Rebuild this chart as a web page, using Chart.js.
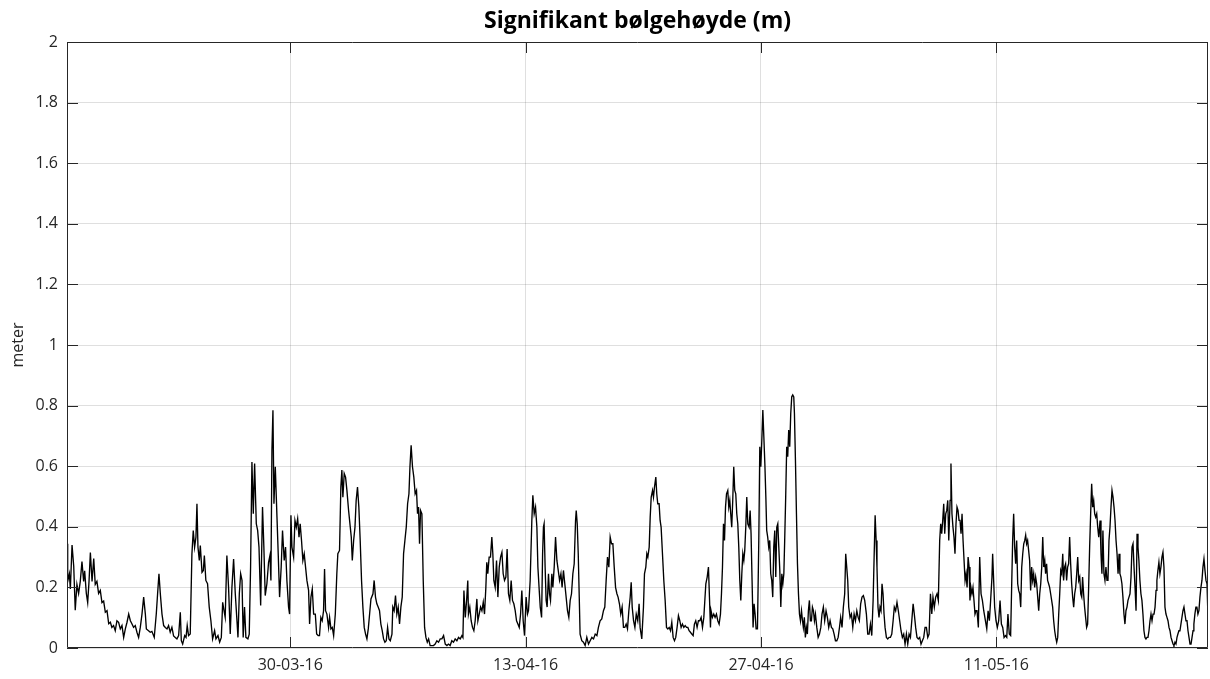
<!DOCTYPE html>
<html><head><meta charset="utf-8">
<script src="https://cdn.jsdelivr.net/npm/chart.js@4.4.1/dist/chart.umd.min.js"></script>
<style>html,body{margin:0;padding:0;background:#fff;}canvas{display:block;}</style>
</head><body>
<canvas id="c" width="1210" height="679"></canvas>
<script>
const chartTitle = 'Signifikant bølgehøyde (m)';
const yAxisTitle = 'meter';
// x values: days relative to 30-03-16 00:00
const tickDays = [0, 14, 28, 42];
const tickLabels = ['30-03-16', '13-04-16', '27-04-16', '11-05-16'];
const dayRange = [-13.28, 54.59];
const yRange = [0, 2];
const yStep = 0.2;
// [day offset, significant wave height (m)]
const hsSamples = [
[-13.28,0.344],[-13.24,0.22],[-13.14,0.245],[-13.08,0.195],[-12.98,0.34],[-12.88,0.27],[-12.79,0.125],[-12.69,0.21],[-12.59,0.18],[-12.49,0.22],[-12.39,0.285],[-12.29,0.22],[-12.23,0.255],[-12.13,0.18],[-12.05,0.15],[-11.97,0.22],[-11.89,0.315],[-11.79,0.22],[-11.69,0.295],[-11.60,0.21],[-11.50,0.22],[-11.40,0.18],[-11.30,0.19],[-11.20,0.15],[-11.10,0.155],[-11.00,0.118],[-10.90,0.123],[-10.80,0.08],[-10.70,0.085],[-10.61,0.068],[-10.51,0.074],[-10.41,0.057],[-10.31,0.09],[-10.21,0.085],[-10.11,0.063],[-10.01,0.074],[-9.91,0.035],[-9.81,0.063],[-9.71,0.085],[-9.61,0.112],[-9.51,0.09],[-9.42,0.08],[-9.32,0.068],[-9.22,0.074],[-9.12,0.052],[-9.02,0.035],[-8.92,0.068],[-8.82,0.112],[-8.72,0.168],[-8.62,0.112],[-8.56,0.063],[-8.43,0.057],[-8.33,0.052],[-8.23,0.055],[-8.09,0.035],[-7.97,0.112],[-7.89,0.18],[-7.81,0.245],[-7.73,0.18],[-7.63,0.112],[-7.53,0.074],[-7.43,0.068],[-7.33,0.063],[-7.24,0.074],[-7.14,0.052],[-7.04,0.068],[-6.94,0.04],
[-6.84,0.035],[-6.74,0.03],[-6.64,0.041],[-6.54,0.118],[-6.48,0.024],[-6.40,0.013],[-6.28,0.041],[-6.20,0.035],[-6.13,0.074],[-6.05,0.041],[-5.95,0.046],[-5.85,0.31],[-5.77,0.388],[-5.69,0.333],[-5.61,0.366],[-5.55,0.476],[-5.49,0.333],[-5.41,0.289],[-5.35,0.338],[-5.25,0.25],[-5.17,0.256],[-5.11,0.305],[-5.02,0.223],[-4.92,0.212],[-4.82,0.135],[-4.72,0.09],[-4.62,0.03],[-4.50,0.057],[-4.42,0.03],[-4.30,0.041],[-4.20,0.019],[-4.10,0.035],[-4.02,0.151],[-3.94,0.123],[-3.87,0.101],[-3.77,0.305],[-3.67,0.2],[-3.57,0.046],[-3.47,0.2],[-3.37,0.294],[-3.27,0.179],[-3.17,0.09],[-3.11,0.035],[-3.03,0.179],[-2.95,0.245],[-2.87,0.223],[-2.80,0.035],[-2.72,0.135],[-2.64,0.035],[-2.52,0.03],[-2.44,0.046],[-2.36,0.267],[-2.28,0.614],[-2.20,0.443],[-2.12,0.609],[-2.02,0.41],[-1.94,0.388],[-1.86,0.333],[-1.76,0.14],[-1.65,0.465],[-1.57,0.333],[-1.49,0.173],[-1.39,0.212],[-1.29,0.283],[-1.21,0.305],[-1.15,0.223],[-1.09,0.653],[-1.03,0.785],[-0.97,0.476],[-0.89,0.598],[-0.79,0.432],[-0.71,0.3],[-0.635,0.168],[-0.54,0.267],[-0.46,0.388],[-0.36,0.289],[-0.28,0.333],[-0.20,0.223],[-0.10,0.135],[-0.04,0.112],
[0.04,0.438],[0.10,0.333],[0.20,0.3],[0.28,0.421],[0.36,0.399],[0.44,0.427],[0.52,0.366],[0.59,0.41],[0.67,0.355],[0.75,0.289],[0.83,0.311],[0.91,0.267],[0.99,0.223],[1.09,0.19],[1.15,0.079],[1.23,0.168],[1.31,0.195],[1.39,0.112],[1.49,0.112],[1.57,0.046],[1.66,0.041],[1.74,0.041],[1.82,0.101],[1.90,0.09],[1.98,0.123],[2.04,0.261],[2.10,0.123],[2.18,0.112],[2.28,0.068],[2.34,0.101],[2.42,0.063],[2.50,0.068],[2.58,0.041],[2.68,0.112],[2.77,0.245],[2.83,0.311],[2.93,0.322],[3.01,0.531],[3.07,0.587],[3.13,0.498],[3.21,0.576],[3.29,0.564],[3.37,0.52],[3.47,0.454],[3.57,0.399],[3.63,0.366],[3.69,0.289],[3.77,0.355],[3.85,0.399],[3.92,0.487],[4.00,0.531],[4.08,0.465],[4.16,0.355],[4.24,0.223],[4.32,0.135],[4.40,0.068],[4.48,0.046],[4.56,0.03],[4.64,0.063],[4.72,0.112],[4.80,0.162],[4.92,0.179],[4.99,0.223],[5.07,0.168],[5.15,0.146],[5.23,0.135],[5.31,0.123],[5.39,0.079],[5.47,0.057],[5.55,0.03],[5.63,0.019],[5.71,0.024],[5.79,0.068],[5.87,0.03],[5.95,0.024],[6.05,0.046],[6.10,0.135],[6.18,0.123],[6.26,0.173],[6.34,0.112],[6.42,0.135],[6.50,0.079],[6.58,0.135],[6.66,0.168],[6.74,0.311],[6.82,0.355],[6.90,0.399],[6.98,0.476],[7.06,0.509],
[7.12,0.598],[7.19,0.669],[7.27,0.598],[7.35,0.564],[7.43,0.509],[7.51,0.52],[7.57,0.443],[7.63,0.465],[7.69,0.344],[7.75,0.454],[7.83,0.443],[7.91,0.223],[7.99,0.068],[8.07,0.035],[8.15,0.019],[8.23,0.03],[8.32,0.008],[8.42,0.008],[8.52,0.008],[8.62,0.013],[8.72,0.024],[8.82,0.019],[8.92,0.03],[9.02,0.03],[9.12,0.041],[9.22,0.013],[9.32,0.008],[9.41,0.013],[9.51,0.008],[9.61,0.024],[9.71,0.019],[9.81,0.03],[9.91,0.024],[10.01,0.035],[10.11,0.03],[10.21,0.041],[10.27,0.035],[10.33,0.19],[10.41,0.101],[10.49,0.157],[10.56,0.223],[10.60,0.112],[10.68,0.135],[10.76,0.09],[10.84,0.068],[10.92,0.057],[11.00,0.09],[11.10,0.162],[11.16,0.09],[11.24,0.112],[11.32,0.135],[11.40,0.123],[11.48,0.151],[11.555,0.112],[11.635,0.2],[11.69,0.283],[11.75,0.245],[11.83,0.3],[11.91,0.3],[11.99,0.366],[12.05,0.311],[12.11,0.223],[12.19,0.2],[12.27,0.289],[12.35,0.168],[12.43,0.267],[12.51,0.3],[12.59,0.316],[12.665,0.245],[12.745,0.223],[12.825,0.234],[12.90,0.327],[12.98,0.179],[13.06,0.157],[13.14,0.223],[13.22,0.157],[13.30,0.146],[13.38,0.123],[13.46,0.09],[13.54,0.079],[13.62,0.068],[13.70,0.112],[13.775,0.19],[13.855,0.09],[13.935,0.041],
[14.03,0.168],[14.11,0.112],[14.17,0.123],[14.27,0.223],[14.37,0.421],[14.43,0.504],[14.51,0.443],[14.59,0.465],[14.67,0.399],[14.73,0.267],[14.81,0.19],[14.87,0.135],[14.95,0.101],[15.01,0.311],[15.06,0.399],[15.10,0.41],[15.16,0.267],[15.22,0.157],[15.28,0.135],[15.36,0.245],[15.42,0.179],[15.48,0.157],[15.56,0.245],[15.62,0.2],[15.70,0.267],[15.78,0.366],[15.86,0.289],[15.94,0.256],[16.02,0.223],[16.10,0.245],[16.17,0.2],[16.25,0.256],[16.33,0.212],[16.41,0.168],[16.49,0.123],[16.57,0.101],[16.65,0.157],[16.73,0.179],[16.81,0.245],[16.89,0.278],[16.97,0.421],[17.01,0.454],[17.07,0.41],[17.13,0.311],[17.19,0.168],[17.24,0.046],[17.34,0.024],[17.44,0.019],[17.54,0.008],[17.64,0.035],[17.74,0.013],[17.84,0.024],[17.94,0.035],[18.04,0.03],[18.14,0.046],[18.24,0.041],[18.33,0.068],[18.43,0.09],[18.53,0.096],[18.63,0.123],[18.71,0.135],[18.79,0.223],[18.87,0.3],[18.95,0.267],[19.03,0.366],[19.11,0.344],[19.19,0.344],[19.27,0.267],[19.35,0.2],[19.43,0.179],[19.50,0.168],[19.58,0.146],[19.66,0.112],[19.74,0.135],[19.82,0.068],[19.90,0.068],[19.98,0.079],[20.06,0.063],[20.14,0.123],[20.22,0.168],[20.28,0.217],[20.34,0.135],[20.42,0.09],[20.50,0.068],[20.58,0.112],
[20.67,0.09],[20.75,0.146],[20.81,0.068],[20.91,0.03],[21.01,0.135],[21.07,0.245],[21.15,0.267],[21.21,0.311],[21.27,0.3],[21.35,0.333],[21.41,0.432],[21.47,0.498],[21.55,0.52],[21.605,0.498],[21.665,0.531],[21.745,0.564],[21.80,0.509],[21.86,0.476],[21.94,0.476],[22.00,0.421],[22.06,0.399],[22.14,0.311],[22.22,0.223],[22.30,0.157],[22.38,0.068],[22.46,0.063],[22.54,0.068],[22.62,0.057],[22.695,0.085],[22.775,0.035],[22.855,0.024],[22.93,0.035],[23.01,0.068],[23.09,0.107],[23.17,0.09],[23.25,0.068],[23.33,0.079],[23.41,0.068],[23.49,0.074],[23.57,0.068],[23.65,0.068],[23.725,0.057],[23.805,0.052],[23.885,0.046],[23.965,0.041],[24.04,0.079],[24.12,0.09],[24.20,0.068],[24.28,0.09],[24.36,0.09],[24.44,0.101],[24.52,0.068],[24.60,0.101],[24.66,0.157],[24.72,0.212],[24.80,0.234],[24.875,0.267],[24.935,0.168],[24.995,0.068],[25.03,0.123],[25.11,0.101],[25.19,0.112],[25.27,0.101],[25.35,0.112],[25.43,0.09],[25.51,0.079],[25.59,0.112],[25.65,0.179],[25.71,0.267],[25.77,0.41],[25.83,0.355],[25.89,0.465],[25.95,0.509],[26.025,0.52],[26.085,0.465],[26.145,0.487],[26.20,0.443],[26.26,0.399],[26.32,0.487],[26.38,0.598],[26.44,0.52],[26.50,0.509],[26.56,0.443],[26.62,0.41],[26.68,0.333],[26.74,0.223],[26.80,0.157],[26.86,0.245],[26.92,0.311],[26.98,0.289],[27.035,0.322],[27.095,0.399],[27.155,0.498],[27.215,0.41],[27.295,0.399],[27.355,0.454],
[27.41,0.377],[27.47,0.223],[27.53,0.068],[27.59,0.146],[27.65,0.112],[27.71,0.063],[27.79,0.063],[27.87,0.355],[27.93,0.664],[27.99,0.598],[28.05,0.686],[28.11,0.785],[28.17,0.697],[28.23,0.609],[28.29,0.498],[28.34,0.388],[28.40,0.366],[28.46,0.333],[28.52,0.355],[28.58,0.245],[28.64,0.223],[28.70,0.168],[28.76,0.333],[28.82,0.388],[28.88,0.234],[28.94,0.399],[29.00,0.41],[29.06,0.333],[29.12,0.256],[29.18,0.135],[29.24,0.245],[29.30,0.212],[29.36,0.245],[29.41,0.355],[29.47,0.498],[29.53,0.664],[29.59,0.631],[29.65,0.719],[29.71,0.664],[29.77,0.774],[29.83,0.829],[29.89,0.835],[29.95,0.829],[29.99,0.774],[30.05,0.62],[30.11,0.443],[30.17,0.278],[30.23,0.179],[30.29,0.112],[30.35,0.09],[30.41,0.123],[30.47,0.09],[30.52,0.068],[30.58,0.101],[30.64,0.035],[30.70,0.068],[30.76,0.046],[30.82,0.123],[30.88,0.157],[30.94,0.09],[31.00,0.09],[31.06,0.135],[31.12,0.123],[31.18,0.09],[31.24,0.112],[31.32,0.068],[31.40,0.035],[31.48,0.046],[31.56,0.068],[31.63,0.112],[31.71,0.135],[31.79,0.09],[31.87,0.123],[31.95,0.101],[32.03,0.068],[32.11,0.09],[32.19,0.068],[32.27,0.063],[32.35,0.046],[32.43,0.024],[32.51,0.024],[32.59,0.035],[32.67,0.068],[32.74,0.101],[32.82,0.068],[32.90,0.135],[32.98,0.179],[33.04,0.311],[33.10,0.267],[33.16,0.223],[33.22,0.135],[33.30,0.101],[33.38,0.112],[33.46,0.068],[33.54,0.112],[33.62,0.09],[33.70,0.123],[33.78,0.101],[33.85,0.09],[33.93,0.146],[34.01,0.168],[34.09,0.173],[34.17,0.157],
[34.27,0.112],[34.35,0.046],[34.43,0.046],[34.51,0.079],[34.59,0.041],[34.67,0.157],[34.73,0.3],[34.79,0.438],[34.85,0.355],[34.90,0.267],[34.96,0.135],[35.02,0.101],[35.08,0.135],[35.14,0.123],[35.20,0.212],[35.26,0.179],[35.32,0.112],[35.38,0.068],[35.46,0.035],[35.54,0.03],[35.62,0.035],[35.70,0.035],[35.78,0.046],[35.86,0.09],[35.93,0.135],[36.01,0.123],[36.09,0.151],[36.17,0.123],[36.25,0.09],[36.33,0.057],[36.41,0.035],[36.49,0.046],[36.57,0.013],[36.65,0.046],[36.73,0.013],[36.81,0.046],[36.89,0.035],[36.97,0.09],[37.05,0.146],[37.12,0.112],[37.20,0.068],[37.28,0.035],[37.36,0.03],[37.44,0.035],[37.52,0.013],[37.60,0.024],[37.68,0.035],[37.76,0.068],[37.84,0.068],[37.92,0.035],[38.00,0.046],[38.08,0.179],[38.16,0.112],[38.23,0.168],[38.31,0.135],[38.39,0.168],[38.47,0.179],[38.55,0.157],[38.63,0.355],[38.69,0.41],[38.75,0.377],[38.81,0.421],[38.87,0.476],[38.93,0.377],[38.99,0.443],[39.05,0.454],[39.11,0.487],[39.17,0.355],[39.25,0.487],[39.30,0.609],[39.36,0.443],[39.42,0.399],[39.48,0.366],[39.54,0.311],[39.60,0.41],[39.66,0.465],[39.72,0.454],[39.78,0.421],[39.84,0.421],[39.90,0.377],[39.96,0.443],[40.02,0.355],[40.08,0.289],[40.14,0.223],[40.20,0.245],[40.26,0.2],[40.32,0.3],[40.38,0.267],[40.43,0.157],[40.49,0.2],[40.55,0.179],[40.61,0.2],[40.67,0.157],[40.73,0.112],[40.79,0.123],[40.85,0.123],[40.93,0.068],[41.01,0.3],[41.09,0.179],[41.17,0.157],[41.25,0.123],
[41.35,0.09],[41.43,0.063],[41.51,0.123],[41.585,0.09],[41.66,0.157],[41.74,0.234],[41.78,0.311],[41.84,0.223],[41.90,0.135],[41.98,0.09],[42.06,0.068],[42.14,0.09],[42.22,0.157],[42.30,0.079],[42.38,0.068],[42.46,0.035],[42.54,0.041],[42.62,0.035],[42.69,0.112],[42.77,0.046],[42.85,0.041],[42.91,0.2],[42.97,0.355],[43.03,0.443],[43.09,0.333],[43.15,0.278],[43.21,0.355],[43.27,0.212],[43.33,0.19],[43.39,0.179],[43.45,0.135],[43.51,0.267],[43.57,0.311],[43.63,0.344],[43.69,0.355],[43.745,0.372],[43.80,0.344],[43.86,0.355],[43.92,0.322],[43.98,0.289],[44.04,0.19],[44.10,0.267],[44.16,0.223],[44.22,0.245],[44.28,0.2],[44.34,0.234],[44.40,0.212],[44.46,0.168],[44.52,0.123],[44.58,0.179],[44.64,0.212],[44.70,0.267],[44.76,0.366],[44.82,0.267],[44.88,0.289],[44.93,0.245],[44.99,0.278],[45.05,0.223],[45.11,0.212],[45.17,0.2],[45.23,0.179],[45.29,0.157],[45.35,0.135],[45.41,0.09],[45.47,0.057],[45.53,0.035],[45.59,0.019],[45.65,0.035],[45.71,0.112],[45.77,0.179],[45.83,0.256],[45.89,0.245],[45.95,0.311],[46.00,0.223],[46.06,0.267],[46.12,0.278],[46.18,0.223],[46.24,0.267],[46.30,0.278],[46.36,0.366],[46.42,0.278],[46.48,0.212],[46.54,0.168],[46.60,0.135],[46.66,0.179],[46.72,0.2],[46.78,0.245],[46.84,0.3],[46.90,0.223],[46.96,0.234],[47.02,0.179],[47.08,0.168],[47.13,0.234],[47.19,0.179],[47.25,0.135],[47.31,0.101],[47.37,0.068],[47.43,0.079],[47.49,0.2],[47.55,0.333],[47.61,0.443],[47.67,0.542],[47.73,0.465],[47.79,0.487],[47.85,0.443],[47.91,0.432],[47.97,0.443],[48.03,0.399],[48.09,0.366],
[48.17,0.421],[48.225,0.311],[48.28,0.245],[48.34,0.388],[48.40,0.245],[48.46,0.223],[48.52,0.267],[48.58,0.223],[48.64,0.223],[48.70,0.355],[48.76,0.399],[48.82,0.465],[48.88,0.52],[48.94,0.498],[49.00,0.465],[49.06,0.421],[49.12,0.355],[49.18,0.311],[49.24,0.245],[49.30,0.311],[49.35,0.245],[49.41,0.234],[49.47,0.212],[49.53,0.168],[49.59,0.112],[49.65,0.079],[49.71,0.123],[49.77,0.135],[49.83,0.157],[49.89,0.168],[49.95,0.179],[50.01,0.234],[50.07,0.333],[50.13,0.344],[50.19,0.267],[50.25,0.2],[50.31,0.123],[50.37,0.377],[50.425,0.333],[50.48,0.289],[50.54,0.223],[50.60,0.179],[50.66,0.157],[50.72,0.112],[50.78,0.057],[50.84,0.035],[50.90,0.03],[50.96,0.035],[51.02,0.035],[51.08,0.057],[51.14,0.09],[51.20,0.112],[51.26,0.09],[51.32,0.112],[51.38,0.112],[51.44,0.135],[51.50,0.19],[51.55,0.223],[51.61,0.256],[51.67,0.283],[51.73,0.245],[51.79,0.267],[51.85,0.3],[51.91,0.316],[51.97,0.267],[52.03,0.135],[52.09,0.112],[52.15,0.101],[52.21,0.09],[52.27,0.068],[52.33,0.057],[52.39,0.035],[52.45,0.024],[52.51,0.013],[52.565,0.008],[52.625,0.019],[52.685,0.013],[52.745,0.035],[52.80,0.046],[52.86,0.057],[52.92,0.057],[52.98,0.079],[53.04,0.101],[53.10,0.123],[53.16,0.135],[53.22,0.112],[53.28,0.09],[53.34,0.09],[53.40,0.057],[53.46,0.035],[53.52,0.013],[53.58,0.013],[53.64,0.035],[53.70,0.057],[53.75,0.079],[53.81,0.112],[53.87,0.135],[53.93,0.135],[53.99,0.112],[54.05,0.123],[54.11,0.168],[54.17,0.2],[54.23,0.223],[54.29,0.267],[54.35,0.294],[54.41,0.256],[54.47,0.223],[54.53,0.212],[54.59,0.1]
];

const FONT = "'Open Sans', 'Noto Sans', sans-serif";
const TEXT = '#262626';
const GRID = 'rgba(38,38,38,0.15)';

const framePlugin = {
  id: 'frame',
  afterDraw(chart) {
    const {ctx, chartArea: a, scales: {x, y}} = chart;
    const L = 11;
    ctx.save();
    ctx.strokeStyle = TEXT;
    ctx.lineWidth = 1;
    ctx.beginPath();
    ctx.rect(a.left + 0.5, a.top + 0.5, a.right - a.left - 1, a.bottom - a.top - 1);
    y.ticks.forEach(t => {
      const py = Math.round(y.getPixelForValue(t.value)) + 0.5;
      ctx.moveTo(a.left, py); ctx.lineTo(a.left + L, py);
      ctx.moveTo(a.right, py); ctx.lineTo(a.right - L, py);
    });
    x.ticks.forEach(t => {
      const px = Math.round(x.getPixelForValue(t.value)) + 0.5;
      ctx.moveTo(px, a.bottom); ctx.lineTo(px, a.bottom - L);
      ctx.moveTo(px, a.top); ctx.lineTo(px, a.top + L);
    });
    ctx.stroke();
    ctx.restore();
  }
};

new Chart(document.getElementById('c'), {
  type: 'line',
  data: {
    datasets: [{
      data: hsSamples.map(([d, h]) => ({x: d, y: h})),
      borderColor: '#000',
      borderWidth: 1.35,
      pointRadius: 0,
      tension: 0,
      fill: false
    }]
  },
  options: {
    responsive: false,
    animation: false,
    devicePixelRatio: 1,
    layout: {padding: {left: 0, right: 2, top: 0, bottom: 0}},
    plugins: {
      legend: {display: false},
      tooltip: {enabled: false},
      title: {
        display: true,
        text: chartTitle,
        fullSize: false,
        color: '#000',
        font: {family: FONT, size: 23, weight: 'bold', lineHeight: 1.2},
        padding: {top: 8, bottom: 6.4}
      }
    },
    scales: {
      x: {
        type: 'linear',
        min: dayRange[0],
        max: dayRange[1],
        afterBuildTicks: s => { s.ticks = tickDays.map(v => ({value: v})); },
        afterFit: s => { s.height = 31; },
        ticks: {
          autoSkip: false,
          maxRotation: 0,
          padding: 8,
          color: TEXT,
          font: {family: FONT, size: 16},
          callback: (v, i) => tickLabels[i]
        },
        grid: {color: GRID, drawTicks: false},
        border: {display: false}
      },
      y: {
        min: yRange[0],
        max: yRange[1],
        afterFit: s => { s.width = 67; },
        ticks: {
          stepSize: yStep,
          padding: 9,
          color: TEXT,
          font: {family: FONT, size: 16},
          callback: v => String(Number(v.toFixed(1)))
        },
        title: {
          display: true,
          text: yAxisTitle,
          color: TEXT,
          font: {family: FONT, size: 16},
          padding: {top: 9, bottom: 0}
        },
        grid: {color: GRID, drawTicks: false},
        border: {display: false}
      }
    }
  },
  plugins: [framePlugin]
});
</script>
</body></html>
